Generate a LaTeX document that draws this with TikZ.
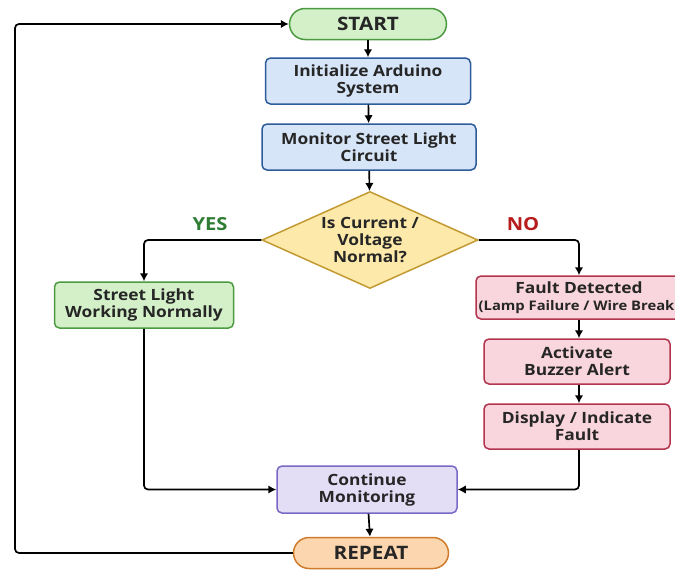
\documentclass[tikz,border=0pt]{standalone}
\usepackage{fontspec}
\setmainfont{Open Sans}[FakeStretch=1.12]
\usepackage{xcolor}
\usepackage{tikz}
\usetikzlibrary{shapes.geometric, arrows, arrows.meta}
\usetikzlibrary{calc,positioning}

\definecolor{greenfill}{HTML}{D3F0C8}
\definecolor{greenline}{HTML}{4C9A42}
\definecolor{bluefill}{HTML}{D7E5F8}
\definecolor{blueline}{HTML}{2E5C9A}
\definecolor{yellowfill}{HTML}{FDEAAA}
\definecolor{yellowline}{HTML}{C39A32}
\definecolor{pinkfill}{HTML}{F9D5DD}
\definecolor{pinkline}{HTML}{B3344E}
\definecolor{purplefill}{HTML}{E3DDF6}
\definecolor{purpleline}{HTML}{7A68C4}
\definecolor{orangefill}{HTML}{FBD6AE}
\definecolor{orangeline}{HTML}{CF7B2C}
\definecolor{yesgreen}{HTML}{2E7D32}
\definecolor{nored}{HTML}{B71C1C}

\begin{document}
\begin{tikzpicture}[x=1pt, y=-1pt,
    txt/.style={font=\bfseries\fontsize{15.5}{17}\selectfont, align=center, text=black!85},
    box/.style={txt, draw, rectangle, rounded corners=5pt, line width=1.5pt, inner sep=0pt},
    term/.style={txt, draw, rectangle, rounded corners=15.5pt, line width=1.5pt, inner sep=0pt,
        minimum height=31pt, font=\bfseries\fontsize{18.5}{20}\selectfont},
    flow/.style={-{Latex[length=8pt,width=8.5pt]}, line width=1.7pt, rounded corners=4pt}]

    % Frame
    \clip (0,0) rectangle (675,570);
    \fill[white] (0,0) rectangle (675,570);

    % Main column
    \node[term, fill=greenfill, draw=greenline, minimum width=157pt] (start) at (368,24) {START};
    \node[box, fill=bluefill, draw=blueline, minimum width=205pt, minimum height=46pt] (init) at (368,81)
        {Initialize Arduino\\System};
    \node[box, fill=bluefill, draw=blueline, minimum width=214pt, minimum height=46pt] (monitor) at (369,147)
        {Monitor Street Light\\Circuit};
    \node[txt, shape=diamond, aspect=2.2, inner sep=0pt, fill=yellowfill, draw=yellowline, line width=1.5pt,
        minimum width=216pt, minimum height=97pt] (check) at (370,240)
        {Is Current /\\Voltage\\Normal?};

    % Branches
    \node[box, fill=greenfill, draw=greenline, minimum width=179pt, minimum height=46pt] (normal) at (144,305)
        {Street Light\\Working Normally};
    \node[box, fill=pinkfill, draw=pinkline, minimum width=206pt, minimum height=43pt] (fault) at (579,297.5)
        {Fault Detected\\{\fontsize{13.2}{15}\selectfont (Lamp Failure / Wire Break)}};
    \node[box, fill=pinkfill, draw=pinkline, minimum width=186pt, minimum height=45pt] (buzzer) at (577,361.5)
        {Activate\\Buzzer Alert};
    \node[box, fill=pinkfill, draw=pinkline, minimum width=186pt, minimum height=45pt] (display) at (577,426.5)
        {Display / Indicate\\Fault};

    \node[box, fill=purplefill, draw=purpleline, minimum width=180pt, minimum height=47pt] (cont) at (367,489.5)
        {Continue\\Monitoring};
    \node[term, fill=orangefill, draw=orangeline, minimum width=155pt] (repeat) at (371,553) {REPEAT};

    % Labels
    \node[txt, text=yesgreen, font=\bfseries\fontsize{18}{20}\selectfont] (yes) at (210,224) {YES};
    \node[txt, text=nored, font=\bfseries\fontsize{18}{20}\selectfont] (no) at (523,224) {NO};

    % Arrows
    \draw[flow] (start) -- (init);
    \draw[flow] (init) -- (monitor);
    \draw[flow] (monitor) -- (check);
    \draw[flow] (check.west) -| (normal.north);
    \draw[flow] (check.east) -| (fault.north);
    \draw[flow] (fault.south) -- (fault.south |- buzzer.north);
    \draw[flow] (fault.south |- buzzer.south) -- (fault.south |- display.north);
    \draw[flow] (fault.south |- display.south) |- (cont.east);
    \draw[flow] (normal.south) |- (cont.west);
    \draw[flow] (cont) -- (repeat);

    % Loop back
    \coordinate (back) at (15,0);
    \draw[flow] (repeat.west) -- (back |- repeat.west) |- (start.west);

\end{tikzpicture}
\end{document}
